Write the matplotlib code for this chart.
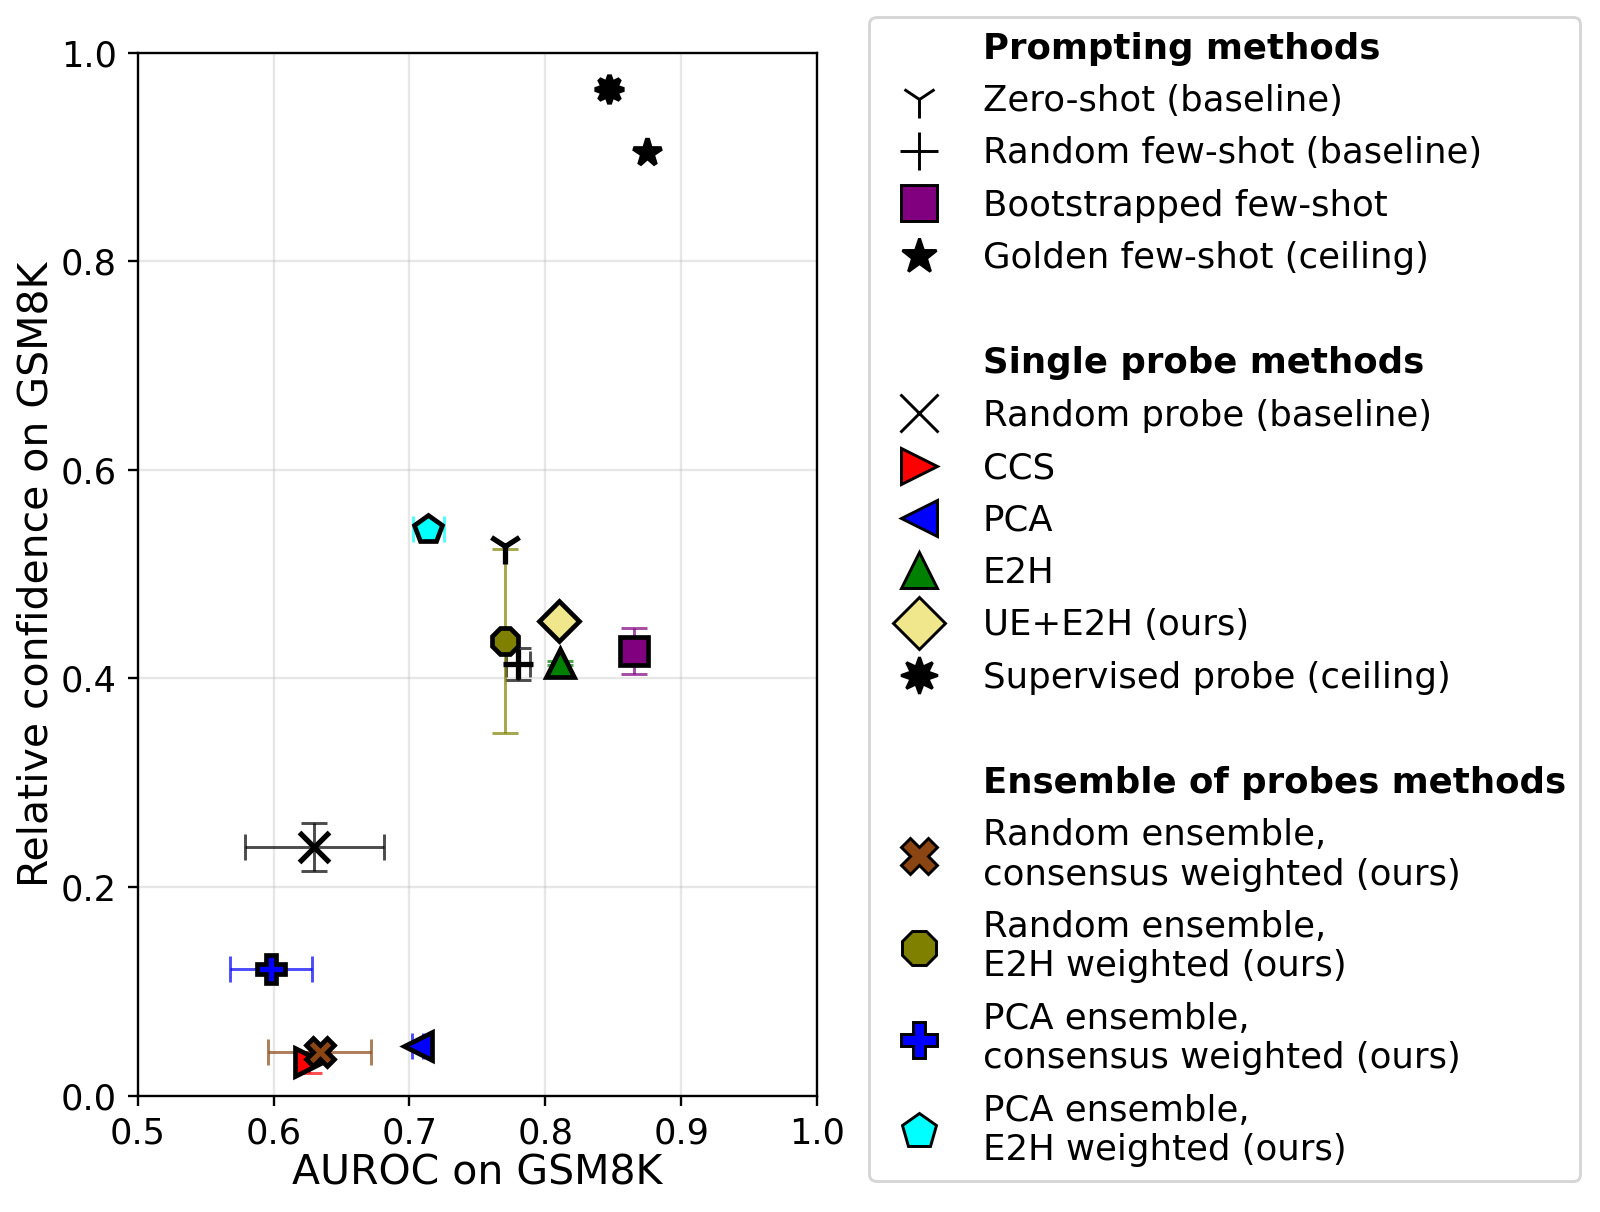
import matplotlib
matplotlib.use("Agg")
import matplotlib.pyplot as plt
from matplotlib.colors import to_rgba
from matplotlib.lines import Line2D

# values
methods = [
    "Zero-shot (baseline)",
    "Random few-shot (baseline)",
    "Bootstrapped few-shot",
    "Golden few-shot (ceiling)",
    "Random probe (baseline)",
    "CCS",
    "PCA",
    "E2H",
    "UE+E2H (ours)",
    "Supervised probe (ceiling)",
    "Random ensemble,\nconsensus weighted (ours)",
    "Random ensemble,\nE2H weighted (ours)",
    "PCA ensemble,\nconsensus weighted (ours)",
    "PCA ensemble,\nE2H weighted (ours)",
]
auroc = [0.770, 0.780, 0.865, 0.875, 0.630, 0.626, 0.706, 0.811, 0.810, 0.847,
         0.634, 0.770, 0.598, 0.714]
auroc_err = [0.0, 0.009, 0.0, 0.0, 0.051, 0.0, 0.004, 0.0, 0.0, 0.0,
             0.038, 0.0, 0.030, 0.0116]
rel_conf = [0.527, 0.414, 0.426, 0.905, 0.238, 0.032, 0.048, 0.415, 0.455, 0.965,
            0.0415, 0.436, 0.121, 0.543]
rel_conf_err = [0.0, 0.015, 0.022, 0.0, 0.023, 0.010, 0.0, 0.002, 0.0, 0.0,
                0.0, 0.088, 0.004, 0.003]

markers = ["1", "+", "s", "*", "x", ">", "<", "^", "D", (8, 1, 0),
           "X", "8", "P", "p"]
colors = ["black", "black", "purple", "black", "black", "red", "blue", "green",
          "khaki", "black", "saddlebrown", "olive", "blue", "cyan"]

groups = [
    ("Prompting methods", [0, 1, 2, 3]),
    ("Single probe methods", [4, 5, 6, 7, 8, 9]),
    ("Ensemble of probes methods", [10, 11, 12, 13]),
]

DPI = 211
fig = plt.figure(figsize=(1600 / DPI, 1212 / DPI), dpi=DPI)
ax = fig.add_axes([0.086, 0.096, 0.4247, 0.8605])

unfilled = {"1", "+", "x"}
for i in range(len(methods)):
    m = markers[i]
    zo = 4 if i == 0 else 3
    kw = dict(fmt="none", ecolor=to_rgba(colors[i], 0.7), elinewidth=1.0,
              capsize=4.3, capthick=1.0, zorder=zo - 0.5)
    if auroc_err[i] > 0 or rel_conf_err[i] > 0:
        ax.errorbar(auroc[i], rel_conf[i],
                    xerr=auroc_err[i] if auroc_err[i] > 0 else None,
                    yerr=rel_conf_err[i] if rel_conf_err[i] > 0 else None, **kw)
    if m in unfilled:
        ax.plot(auroc[i], rel_conf[i], linestyle="none", marker=m,
                ms=12 if m == "1" else 10.5,
                color="black", mew=1.8, zorder=zo)
    else:
        ax.plot(auroc[i], rel_conf[i], linestyle="none", marker=m, ms=9.8,
                mfc=colors[i], mec="black", mew=1.6, zorder=zo)

ax.set_xlim(0.5, 1.0)
ax.set_ylim(0.0, 1.0)
ax.set_xticks([0.5, 0.6, 0.7, 0.8, 0.9, 1.0])
ax.set_yticks([0.0, 0.2, 0.4, 0.6, 0.8, 1.0])
ax.tick_params(labelsize=12)
ax.grid(True, alpha=0.3)
ax.set_axisbelow(True)
ax.set_xlabel("AUROC on GSM8K", fontsize=14, labelpad=1)
ax.set_ylabel("Relative confidence on GSM8K", fontsize=14, labelpad=1.5)

# legend with section headers and blank rows
handles, labels, headers = [], [], []
for g, (title, idx) in enumerate(groups):
    if g > 0:
        handles.append(Line2D([], [], linestyle="none", marker=None))
        labels.append(" ")
    handles.append(Line2D([], [], linestyle="none", marker=None))
    labels.append(title)
    headers.append(title)
    for i in idx:
        m = markers[i]
        if m in unfilled:
            h = Line2D([], [], linestyle="none", marker=m, ms=13, color="black", mew=1.0)
        else:
            h = Line2D([], [], linestyle="none", marker=m, ms=12.5, mfc=colors[i],
                       mec="black", mew=1.0)
        handles.append(h)
        labels.append(methods[i])

leg = fig.legend(handles, labels, loc="upper left", bbox_to_anchor=(0.5434, 0.9857),
                 borderaxespad=0, fontsize=12.1, labelspacing=0.52, frameon=True)
for t in leg.get_texts():
    if t.get_text() in headers:
        t.set_fontweight("bold")

fig.savefig("out.png", dpi=DPI)
plt.close(fig)
